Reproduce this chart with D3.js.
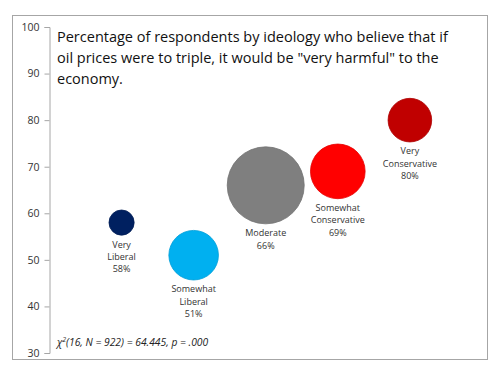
<!DOCTYPE html>
<html>
<head>
<meta charset="utf-8">
<script src="https://cdn.jsdelivr.net/npm/d3@7"></script>
<style>
  body { margin: 0; background: #fff; }
  svg { display: block; }
</style>
</head>
<body>
<svg id="chart"></svg>
<script>
// Bubble chart — oil price harm by ideology

const groups = ["Very Liberal", "Somewhat Liberal", "Moderate", "Somewhat Conservative", "Very Conservative"];
const labelLines = [["Very", "Liberal"], ["Somewhat", "Liberal"], ["Moderate"], ["Somewhat", "Conservative"], ["Very", "Conservative"]];
const xPos = [1, 2, 3, 4, 5];
const pct = [58, 51, 66, 69, 80];
const sizes = [42, 163, 393, 198, 126];
const colors = ["#002060", "#00b0f0", "#7f7f7f", "#ff0000", "#c00000"];
const yTicks = [30, 40, 50, 60, 70, 80, 90, 100];
const titleLines = [
  "Percentage of respondents by ideology who believe that if",
  "oil prices were to triple, it would be \"very harmful\" to the",
  "economy."
];

(function () {
  const W = 500, H = 375;
  const FONT = "'Open Sans', sans-serif";

  const svg = d3.select("#chart").attr("width", W).attr("height", H);

  // outer frame
  svg.append("rect")
    .attr("x", 12.5).attr("y", 15.5)
    .attr("width", 475).attr("height", 344)
    .attr("fill", "#fff").attr("stroke", "#a6a6a6").attr("stroke-width", 1);

  const x = d3.scaleLinear().domain([0, 6.07]).range([49.5, 487]);
  const y = d3.scaleLinear().domain([30, 100]).range([353, 27]);
  const r = d3.scaleSqrt().domain([0, d3.max(sizes)]).range([0, 38.5]);

  // Y axis
  const yAxis = svg.append("g")
    .attr("transform", "translate(49.5,0)")
    .call(d3.axisLeft(y).tickValues(yTicks).tickSize(5).tickPadding(5));
  yAxis.select(".domain").attr("stroke", "#a6a6a6");
  yAxis.selectAll(".tick line").attr("stroke", "#a6a6a6");
  yAxis.selectAll(".tick text")
    .attr("fill", "#333").attr("font-size", 10.5).attr("font-family", FONT);

  const data = groups.map((g, i) => ({
    name: g, lines: labelLines[i], x: xPos[i], pct: pct[i], size: sizes[i], color: colors[i]
  }));

  // bubbles
  svg.append("g").selectAll("circle")
    .data(data).join("circle")
    .attr("cx", d => x(d.x)).attr("cy", d => y(d.pct))
    .attr("r", d => r(d.size))
    .attr("fill", d => d.color)
    .attr("stroke", d => d3.color(d.color).darker(0.3))
    .attr("stroke-width", 0.8);

  // labels under bubbles
  const lbl = svg.append("g").selectAll("text")
    .data(data).join("text")
    .attr("text-anchor", "middle")
    .attr("font-family", FONT)
    .attr("font-size", 9)
    .attr("fill", "#333")
    .attr("x", d => x(d.x))
    .attr("y", d => y(d.pct) + r(d.size) + 12.5);
  lbl.each(function (d) {
    const t = d3.select(this);
    d.lines.concat([d.pct + "%"]).forEach((s, k) => {
      t.append("tspan").attr("x", x(d.x)).attr("dy", k === 0 ? 0 : 12.2).text(s);
    });
  });

  // title
  svg.append("g").selectAll("text")
    .data(titleLines).join("text")
    .attr("x", 57).attr("y", (d, i) => 41.5 + i * 21)
    .attr("font-family", FONT)
    .attr("font-size", 14.5)
    .attr("fill", "#111")
    .text(d => d);

  // chi-square note
  const note = svg.append("text")
    .attr("x", 57).attr("y", 346)
    .attr("font-family", FONT).attr("font-size", 10.3)
    .attr("font-style", "italic").attr("fill", "#222");
  note.append("tspan").text("\u03c7");
  note.append("tspan").attr("font-size", 7).attr("dy", -4).text("2");
  note.append("tspan").attr("dy", 4).text("(16, N = 922) = 64.445, p = .000");
})();
</script>
</body>
</html>
